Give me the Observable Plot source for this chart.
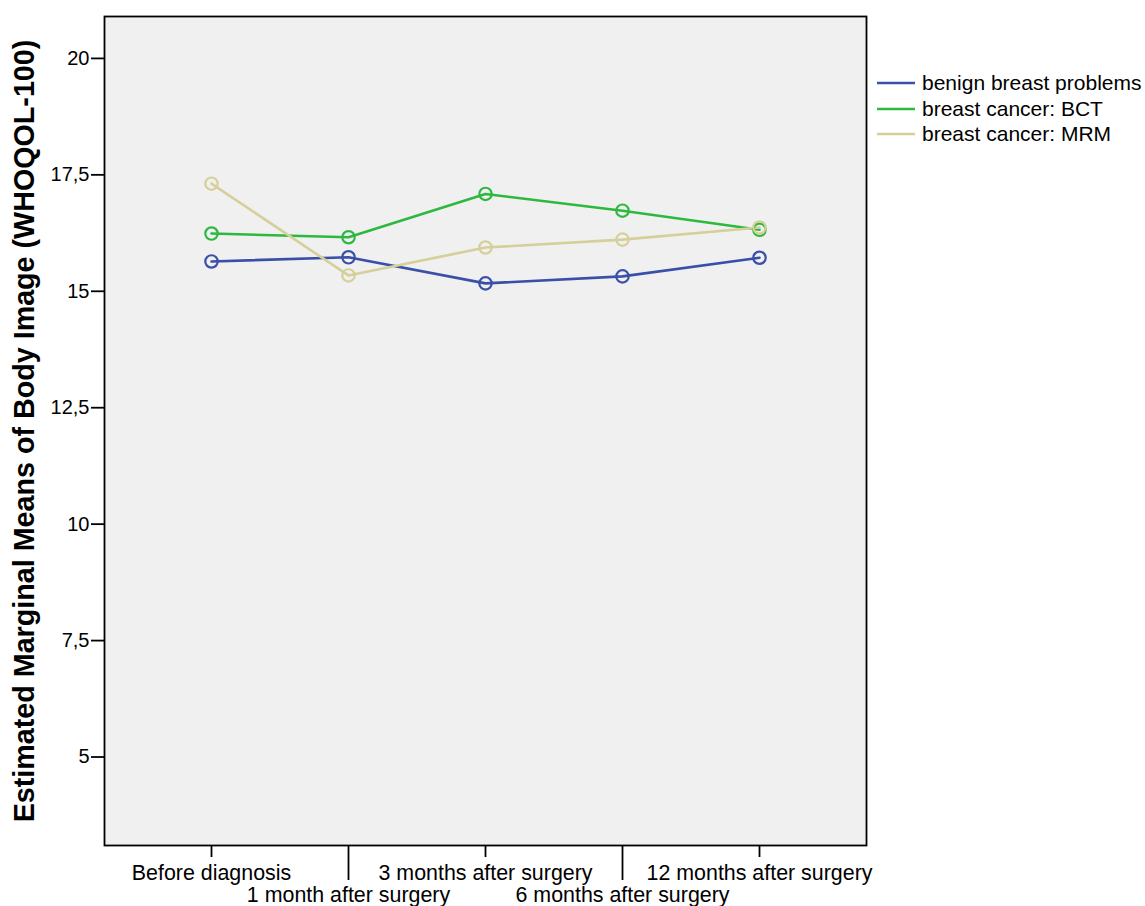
<!DOCTYPE html>
<html>
<head>
<meta charset="utf-8">
<script src="https://cdn.jsdelivr.net/npm/d3@7"></script>
<script src="https://cdn.jsdelivr.net/npm/@observablehq/plot@0.6"></script>
<style>
  html, body { margin: 0; padding: 0; background: #fff; }
  #wrap { position: relative; width: 1145px; height: 906px; font-family: "Liberation Sans", Arial, sans-serif; }
  #legend { position: absolute; left: 877px; top: 70px; font-size: 21px; color: #000; }
  .item { position: absolute; left: 0; height: 26px; display: flex; align-items: center; white-space: nowrap; }
  .item svg { margin-right: 7px; }
</style>
</head>
<body>
<div id="wrap"><div id="legend"></div></div>
<script>
const categories = ["Before diagnosis", "1 month after surgery", "3 months after surgery", "6 months after surgery", "12 months after surgery"];
const groups = ["benign breast problems", "breast cancer: BCT", "breast cancer: MRM"];
const benign = [15.64, 15.73, 15.17, 15.32, 15.72];
const bct = [16.24, 16.16, 17.09, 16.73, 16.32];
const mrm = [17.31, 15.34, 15.94, 16.11, 16.37];
const colors = ["#3a4fa8", "#2db83f", "#d5cf9a"];
const yTicks = [5, 7.5, 10, 12.5, 15, 17.5, 20];

const series = [benign, bct, mrm];
const data = [];
groups.forEach((g, gi) => series[gi].forEach((v, i) => data.push({group: g, time: categories[i], value: v})));

const font = "Liberation Sans, Arial, sans-serif";
const evens = categories.filter((d, i) => i % 2 === 0);
const odds = categories.filter((d, i) => i % 2 === 1);

const chart = Plot.plot({
  width: 1145,
  height: 906,
  marginTop: 16,
  marginLeft: 104,
  marginRight: 279,
  marginBottom: 61,
  style: {fontFamily: font, background: "#fff", color: "#000", overflow: "visible"},
  x: {type: "point", domain: categories, padding: 0.77, axis: null},
  y: {domain: [3.1, 20.9], axis: null},
  color: {domain: groups, range: colors},
  marks: [
    Plot.frame({fill: "#f0f0f0", stroke: "none"}),
    Plot.axisY(yTicks, {tickSize: 13, tickPadding: 2, fontSize: 20, strokeWidth: 1.8, tickFormat: d => String(d).replace(".", ","), label: null}),
    Plot.axisX(evens, {tickSize: 12, tickPadding: 7, fontSize: 21.4, strokeWidth: 1.8, label: null}),
    Plot.axisX(odds, {tickSize: 35, tickPadding: 6, fontSize: 21.4, strokeWidth: 1.8, label: null}),
    Plot.line(data, {x: "time", y: "value", z: "group", stroke: "group", strokeWidth: 2.6}),
    Plot.dot(data, {x: "time", y: "value", stroke: "group", r: 6.2, strokeWidth: 2.2, fill: "none"}),
    Plot.frame({stroke: "#000", strokeWidth: 1.8}),
    Plot.text(["Estimated Marginal Means of Body Image (WHOQOL-100)"], {frameAnchor: "left", textAnchor: "middle", rotate: -90, dx: -80, fontSize: 28.7, fontWeight: "bold", fill: "#000", lineAnchor: "middle"})
  ]
});
document.getElementById("wrap").prepend(chart);

const legend = document.getElementById("legend");
const ys = [0, 25.5, 51];
groups.forEach((g, i) => {
  const it = document.createElement("div");
  it.className = "item";
  it.style.top = ys[i] + "px";
  it.innerHTML = `<svg width="38" height="6"><line x1="0" x2="38" y1="3" y2="3" stroke="${colors[i]}" stroke-width="2.4"/></svg><span>${g}</span>`;
  legend.appendChild(it);
});
</script>
</body>
</html>
